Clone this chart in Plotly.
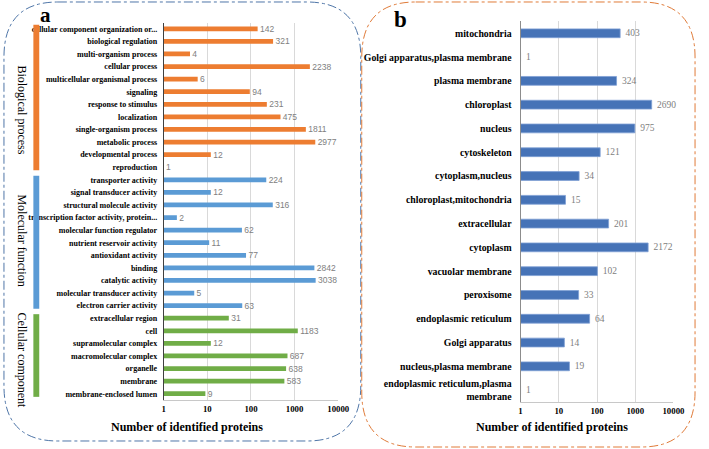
import plotly.graph_objects as go

# ---------------- data ----------------
bp_labels = ["cellular component organization or...", "biological regulation", "multi-organism process",
             "cellular process", "multicellular organismal process", "signaling", "response to stimulus",
             "localization", "single-organism process", "metabolic process", "developmental process",
             "reproduction"]
bp_values = [142, 321, 4, 2238, 6, 94, 231, 475, 1811, 2977, 12, 1]

mf_labels = ["transporter activity", "signal transducer activity", "structural molecule activity",
             "transcription factor activity, protein...", "molecular function regulator",
             "nutrient reservoir activity", "antioxidant activity", "binding", "catalytic activity",
             "molecular transducer activity", "electron carrier activity"]
mf_values = [224, 12, 316, 2, 62, 11, 77, 2842, 3038, 5, 63]

cc_labels = ["extracellular region", "cell", "supramolecular complex", "macromolecular complex",
             "organelle", "membrane", "membrane-enclosed lumen"]
cc_values = [31, 1183, 12, 687, 638, 583, 9]

group_names = ["Biological process", "Molecular function", "Cellular component"]

loc_labels = ["mitochondria", "Golgi apparatus,plasma membrane", "plasma membrane", "chloroplast",
              "nucleus", "cytoskeleton", "cytoplasm,nucleus", "chloroplast,mitochondria",
              "extracellular", "cytoplasm", "vacuolar membrane", "peroxisome",
              "endoplasmic reticulum", "Golgi apparatus", "nucleus,plasma membrane",
              "endoplasmic reticulum,plasma<br>membrane"]
loc_values = [403, 1, 324, 2690, 975, 121, 34, 15, 201, 2172, 102, 33, 64, 14, 19, 1]

tick_vals = [1, 10, 100, 1000, 10000]
tick_text = ["1", "10", "100", "1000", "10000"]
axis_title = "Number of identified proteins"

# ---------------- styling ----------------
W, H = 709, 449
group_colors = ["#ED7D31", "#5B9BD5", "#70AD47"]
group_label_y = [110, 240, 360]   # pixel centres of the vertical group captions
loc_color = "#4673B7"
serif = "Liberation Serif"
NB = "\u00a0"

def px_x(p):
    return p / W

def px_y(p):
    return 1 - p / H

fig = go.Figure()

groups = [(bp_labels, bp_values), (mf_labels, mf_values), (cc_labels, cc_values)]
all_left = bp_labels + mf_labels + cc_labels

for (labs, vals), col, name in zip(groups, group_colors, group_names):
    fig.add_trace(go.Bar(
        x=vals, y=labs, orientation="h", name=name,
        marker=dict(color=col, line=dict(width=0)),
        width=0.38,
        text=[NB + str(v) for v in vals], textposition="outside", cliponaxis=False,
        constraintext="none",
        outsidetextfont=dict(family="Liberation Sans", size=8.5, color="#808080"),
        xaxis="x", yaxis="y", showlegend=False,
    ))

fig.add_trace(go.Bar(
    x=loc_values, y=loc_labels, orientation="h",
    marker=dict(color=loc_color, line=dict(width=0.8, color="#7FA0D4")),
    width=0.37,
    text=[NB + str(v) for v in loc_values], textposition="outside", cliponaxis=False,
    constraintext="none",
    outsidetextfont=dict(family=serif, size=9.5, color="#808080"),
    xaxis="x2", yaxis="y2", showlegend=False,
))

xcommon = dict(type="log", range=[0, 4], tickvals=tick_vals, ticktext=tick_text,
               showgrid=True, gridcolor="#D9D9D9", gridwidth=1, zeroline=False,
               showline=True, linecolor="#C8C8C8", linewidth=1, ticks="",
               tickfont=dict(family=serif, size=8.8, color="black", weight="bold"))

n_left = len(all_left)
n_right = len(loc_labels)

fig.update_layout(
    width=W, height=H, margin=dict(l=0, r=0, t=0, b=0),
    paper_bgcolor="white", plot_bgcolor="white",
    bargap=0.6,
    xaxis=dict(domain=[px_x(165), px_x(343)], anchor="y", **xcommon),
    yaxis=dict(domain=[px_y(400), px_y(22.5)], anchor="x", type="category",
               categoryorder="array", categoryarray=all_left,
               range=[n_left - 0.5, -0.5], showgrid=False, zeroline=False,
               showline=True, linecolor="#404040", linewidth=1, ticks="",
               ticklabelstandoff=4,
               tickfont=dict(family=serif, size=8.0, color="black", weight="bold")),
    xaxis2=dict(domain=[px_x(529), px_x(685)], anchor="y2", **xcommon),
    yaxis2=dict(domain=[px_y(402), px_y(21.4)], anchor="x2", type="category",
                categoryorder="array", categoryarray=loc_labels,
                range=[n_right - 0.5, -0.5], showgrid=False, zeroline=False,
                showline=True, linecolor="#8C8C8C", linewidth=1, ticks="",
                ticklabelstandoff=6,
                tickfont=dict(family=serif, size=9.8, color="black", weight="bold")),
)

# group indicator bars (spans derived from group sizes) and captions
start = 0
for (labs, vals), col, name, gy in zip(groups, group_colors, group_names, group_label_y):
    end = start + len(labs) - 1
    fig.add_shape(type="rect", xref="paper", yref="y",
                  x0=px_x(32), x1=px_x(38), y0=start - 0.32, y1=end + 0.25,
                  fillcolor=col, line=dict(width=0), layer="above")
    fig.add_annotation(xref="paper", yref="paper", x=px_x(20), y=px_y(gy),
                       xanchor="center", yanchor="middle",
                       text=name, textangle=90, showarrow=False,
                       font=dict(family=serif, size=12, color="black"))
    start = end + 1

# axis titles
for cx in (189, 561):
    fig.add_annotation(xref="paper", yref="paper", x=px_x(cx), y=px_y(427),
                       xanchor="center", yanchor="middle",
                       text=axis_title, showarrow=False,
                       font=dict(family=serif, size=12, color="black", weight="bold"))

# panel letters
fig.add_annotation(xref="paper", yref="paper", x=px_x(44), y=px_y(15), text="a",
                   xanchor="center", yanchor="middle",
                   showarrow=False, font=dict(family=serif, size=21, color="black", weight="bold"))
fig.add_annotation(xref="paper", yref="paper", x=px_x(407), y=px_y(19), text="b",
                   xanchor="center", yanchor="middle",
                   showarrow=False, font=dict(family=serif, size=23, color="black", weight="bold"))

# rounded dash-dot frames
def rounded(x0, y0, x1, y1, r):
    def P(x, y):
        return f"{px_x(x):.5f},{px_y(y):.5f}"
    return (f"M {P(x0 + r, y0)} L {P(x1 - r, y0)} Q {P(x1, y0)} {P(x1, y0 + r)} "
            f"L {P(x1, y1 - r)} Q {P(x1, y1)} {P(x1 - r, y1)} "
            f"L {P(x0 + r, y1)} Q {P(x0, y1)} {P(x0, y1 - r)} "
            f"L {P(x0, y0 + r)} Q {P(x0, y0)} {P(x0 + r, y0)} Z")

fig.add_shape(type="path", xref="paper", yref="paper", path=rounded(2, 2, 366, 441, 55),
              line=dict(color="#4F76A8", width=1, dash="dashdot"), layer="above")
fig.add_shape(type="path", xref="paper", yref="paper", path=rounded(367, 2, 707, 447, 55),
              line=dict(color="#E07B39", width=1, dash="dashdot"), layer="above")

fig.write_html("out.html", config={"displayModeBar": False},
               post_script="document.body.style.margin='0';document.body.style.overflow='hidden';")
